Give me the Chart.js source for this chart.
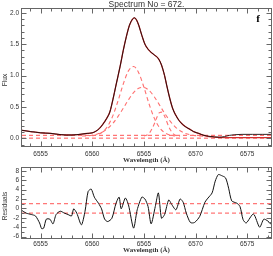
<!DOCTYPE html>
<html>
<head>
<meta charset="utf-8">
<script src="https://cdn.jsdelivr.net/npm/chart.js@4/dist/chart.umd.min.js"></script>
<style>
html,body{margin:0;padding:0;background:#fff;overflow:hidden;width:273px;height:256px;}
canvas{position:absolute;left:0;}
#c1{top:0;}
#c2{top:160px;}
</style>
</head>
<body>
<canvas id="c1" width="273" height="166"></canvas>
<canvas id="c2" width="273" height="96"></canvas>
<script>
// ---- data ----
const obsWave = [6553.2,6553.6,6554.0,6554.5,6555.0,6555.5,6556.0,6556.5,6557.0,6557.5,6558.0,6558.5,6559.0,6559.5,6560.0,6560.3,6560.7,6561.0,6561.4,6561.7,6562.0,6562.3,6562.7,6563.0,6563.3,6563.6,6563.9,6564.1,6564.3,6564.5,6564.8,6565.1,6565.4,6565.7,6566.0,6566.4,6566.7,6567.0,6567.2,6567.5,6567.8,6568.3,6568.7,6569.0,6569.5,6569.8,6570.3,6570.8,6571.3,6571.8,6572.3,6572.8,6573.3,6573.8,6574.5,6575.5,6576.5,6577.3];
const obsFlux = [0.13,0.12,0.11,0.10,0.09,0.085,0.08,0.07,0.06,0.055,0.055,0.06,0.07,0.08,0.09,0.11,0.16,0.22,0.32,0.42,0.62,0.85,1.15,1.40,1.62,1.80,1.90,1.92,1.88,1.80,1.64,1.50,1.42,1.37,1.33,1.27,1.17,1.00,0.85,0.64,0.47,0.31,0.23,0.19,0.14,0.11,0.08,0.05,0.035,0.025,0.02,0.03,0.05,0.06,0.065,0.065,0.065,0.065];
const fitFlux = [0.13,0.12,0.11,0.10,0.09,0.085,0.08,0.07,0.06,0.055,0.055,0.06,0.07,0.08,0.09,0.11,0.16,0.22,0.32,0.42,0.62,0.85,1.15,1.40,1.62,1.80,1.90,1.92,1.88,1.80,1.64,1.50,1.42,1.37,1.33,1.27,1.17,1.00,0.85,0.64,0.47,0.31,0.23,0.19,0.14,0.11,0.08,0.05,0.03,0.022,0.016,0.013,0.012,0.012,0.012,0.012,0.012,0.012];

const narrowWave = [6560.0,6560.5,6561.0,6561.5,6562.0,6562.5,6563.0,6563.5,6564.0,6564.5,6565.0,6565.5,6566.0,6566.5,6567.0,6567.5,6568.0];
const narrowFlux = [0.043,0.060,0.104,0.198,0.364,0.601,0.866,1.075,1.145,1.043,0.815,0.549,0.324,0.174,0.092,0.055,0.041];

const broadWave = [6559.0,6559.5,6560.0,6560.5,6561.0,6561.5,6562.0,6562.5,6563.0,6563.5,6564.0,6564.5,6565.0,6565.5,6566.0,6566.5,6567.0,6567.5,6568.0,6568.5,6569.0,6569.5,6570.0,6570.5,6571.0];
const broadFlux = [0.038,0.042,0.052,0.071,0.104,0.160,0.242,0.352,0.481,0.614,0.728,0.799,0.812,0.763,0.664,0.535,0.402,0.283,0.189,0.124,0.082,0.058,0.045,0.039,0.036];

const smallWave = [6565.0,6565.5,6566.0,6566.25,6566.5,6566.75,6567.0,6567.5,6568.0,6568.5];
const smallFlux = [0.039,0.079,0.229,0.334,0.411,0.419,0.354,0.153,0.054,0.036];

const baseLevels = [0.05, 0.005];

const residWave = [6553.16,6553.6,6554.1,6554.5,6554.9,6555.1,6555.3,6555.55,6555.9,6556.2,6556.5,6556.9,6557.3,6557.65,6558.0,6558.2,6558.5,6558.95,6559.3,6559.6,6559.9,6560.2,6560.6,6560.9,6561.2,6561.5,6561.9,6562.3,6562.6,6562.8,6563.2,6563.5,6564.0,6564.35,6564.8,6565.1,6565.4,6565.7,6566.1,6566.4,6566.7,6567.0,6567.4,6567.7,6568.1,6568.5,6568.8,6569.1,6569.5,6569.9,6570.4,6570.9,6571.2,6571.6,6571.9,6572.2,6572.5,6572.9,6573.2,6573.5,6574.0,6574.3,6574.6,6574.9,6575.6,6576.2,6576.6,6577.0,6577.3];
const residVal = [-0.4,-1.0,-1.3,-1.6,-3.1,-4.3,-4.2,-2.3,-2.3,-3.3,-1.3,-0.6,-1.0,-1.3,-1.6,-0.1,-1.0,-3.5,-0.6,3.6,4.1,2.4,1.1,-0.1,-2.3,-2.8,-2.1,1.1,2.4,-0.1,2.2,0.8,-4.2,-0.3,2.4,2.0,0.4,-3.3,0.4,3.3,-2.1,-1.3,1.8,0.8,-0.3,2.0,1.3,-1.0,-3.0,-3.0,-1.7,1.3,2.2,3.3,5.8,7.2,7.0,6.5,4.3,1.6,1.1,0.4,-2.4,-3.1,-1.2,-4.0,-2.3,-2.7,-3.4];
const residBand = [1, -1];

const xTicks = [6555, 6560, 6565, 6570, 6575];
const fluxTicks = [0.0, 0.5, 1.0, 1.5, 2.0];
const residTicks = [-6, -4, -2, 0, 2, 4, 6, 8];

// ---- helpers ----
const pts = (xs, ys) => xs.map((x, i) => ({x, y: ys[i]}));
const hline = (v) => [{x: 6553.2, y: v}, {x: 6577.3, y: v}];
const X_MIN = 6553.2, X_MAX = 6577.3;

const TICK_FONT = '6.5px "Liberation Sans", Arial, sans-serif';
const AXIS_FONT = 'bold 7px "Liberation Serif", "DejaVu Serif", serif';

const idlAxes = {
  id: 'idlAxes',
  afterDraw(chart, args, o) {
    const {ctx, chartArea: {left, right, top, bottom}, scales: {x, y}} = chart;
    ctx.save();
    ctx.strokeStyle = '#666';
    ctx.lineWidth = 1;
    ctx.strokeRect(left - 0.5, top - 0.5, right - left + 1, bottom - top + 1);
    ctx.beginPath();
    for (let v = Math.ceil(X_MIN); v <= X_MAX; v += 1) {
      const px = Math.round(x.getPixelForValue(v)) + 0.5;
      const major = o.xTicks.includes(v);
      const L = major ? 4.5 : 2.5;
      ctx.moveTo(px, bottom); ctx.lineTo(px, bottom - L);
      ctx.moveTo(px, top); ctx.lineTo(px, top + L);
    }
    for (let v = o.yMinorStart; v <= y.max + 1e-9; v += o.yMinorStep) {
      const vv = Math.round(v * 1000) / 1000;
      if (vv < y.min) continue;
      const py = Math.round(y.getPixelForValue(vv)) + 0.5;
      const major = o.yTicks.some(t => Math.abs(t - vv) < 1e-6);
      const L = major ? 4.5 : 2.5;
      ctx.moveTo(left, py); ctx.lineTo(left + L, py);
      ctx.moveTo(right, py); ctx.lineTo(right - L, py);
    }
    ctx.stroke();

    ctx.fillStyle = '#333';
    ctx.font = TICK_FONT;
    ctx.textAlign = 'center';
    ctx.textBaseline = 'middle';
    o.xTicks.forEach(v => ctx.fillText(String(v), x.getPixelForValue(v), o.xLabelY));
    ctx.textAlign = 'right';
    o.yTicks.forEach(v => ctx.fillText(o.yFmt(v), left - 3, y.getPixelForValue(v)));

    ctx.font = AXIS_FONT;
    ctx.textAlign = 'center';
    ctx.fillText('Wavelength (Å)', (left + right) / 2, o.xTitleY);

    ctx.font = '6.5px "Liberation Sans", Arial, sans-serif';
    ctx.save();
    ctx.translate(5, o.yTitlePos);
    ctx.rotate(-Math.PI / 2);
    ctx.fillText(o.yTitle, 0, 0);
    ctx.restore();

    if (o.title) {
      ctx.font = '8.5px "Liberation Sans", Arial, sans-serif';
      ctx.fillStyle = '#333';
      ctx.fillText(o.title, (left + right) / 2, 5);
    }
    if (o.panel) {
      ctx.font = 'bold 11px "Liberation Serif", serif';
      ctx.fillStyle = '#000';
      ctx.fillText(o.panel, 258, 19);
    }
    ctx.restore();
  }
};

const compStyle = {borderColor: '#ff7070', borderWidth: 1.1, borderDash: [4, 3], pointRadius: 0, cubicInterpolationMode: 'monotone', order: 2};
const baseStyle = {borderColor: '#ff5555', borderWidth: 1, borderDash: [4, 3], pointRadius: 0, order: 3};

new Chart(document.getElementById('c1'), {
  type: 'line',
  data: {
    datasets: [
      {data: pts(obsWave, obsFlux), borderColor: '#1a0a0a', borderWidth: 0.9, pointRadius: 0, cubicInterpolationMode: 'monotone', order: 0},
      {data: pts(obsWave, fitFlux), borderColor: '#d23030', borderWidth: 1.3, pointRadius: 0, cubicInterpolationMode: 'monotone', order: 1},
      Object.assign({data: pts(narrowWave, narrowFlux)}, compStyle),
      Object.assign({data: pts(broadWave, broadFlux)}, compStyle),
      Object.assign({data: pts(smallWave, smallFlux)}, compStyle),
      Object.assign({data: hline(baseLevels[0])}, baseStyle),
      Object.assign({data: hline(baseLevels[1])}, baseStyle)
    ]
  },
  options: {
    responsive: false, animation: false, devicePixelRatio: 1,
    layout: {padding: {left: 22, right: 2, top: 9, bottom: 20}},
    scales: {
      x: {type: 'linear', min: X_MIN, max: X_MAX, display: false},
      y: {type: 'linear', min: -0.12, max: 2.06, display: false}
    },
    plugins: {
      legend: {display: false}, tooltip: {enabled: false},
      idlAxes: {xTicks, yTicks: fluxTicks, yMinorStart: -0.1, yMinorStep: 0.1,
        yFmt: v => v.toFixed(1), xLabelY: 154, xTitleY: 160, yTitle: 'Flux', yTitlePos: 80,
        title: 'Spectrum No = 672.', panel: 'f'}
    }
  },
  plugins: [idlAxes]
});

new Chart(document.getElementById('c2'), {
  type: 'line',
  data: {
    datasets: [
      {data: pts(residWave, residVal), borderColor: '#111', borderWidth: 1, pointRadius: 0, tension: 0.25, order: 0},
      Object.assign({data: hline(residBand[0])}, baseStyle),
      Object.assign({data: hline(residBand[1])}, baseStyle)
    ]
  },
  options: {
    responsive: false, animation: false, devicePixelRatio: 1,
    layout: {padding: {left: 22, right: 2, top: 8, bottom: 18}},
    scales: {
      x: {type: 'linear', min: X_MIN, max: X_MAX, display: false},
      y: {type: 'linear', min: -6.3, max: 8.6, display: false}
    },
    plugins: {
      legend: {display: false}, tooltip: {enabled: false},
      idlAxes: {xTicks, yTicks: residTicks, yMinorStart: -6, yMinorStep: 1,
        yFmt: v => String(v), xLabelY: 84.5, xTitleY: 90.5, yTitle: 'Residuals', yTitlePos: 46}
    }
  },
  plugins: [idlAxes]
});
</script>
</body>
</html>
